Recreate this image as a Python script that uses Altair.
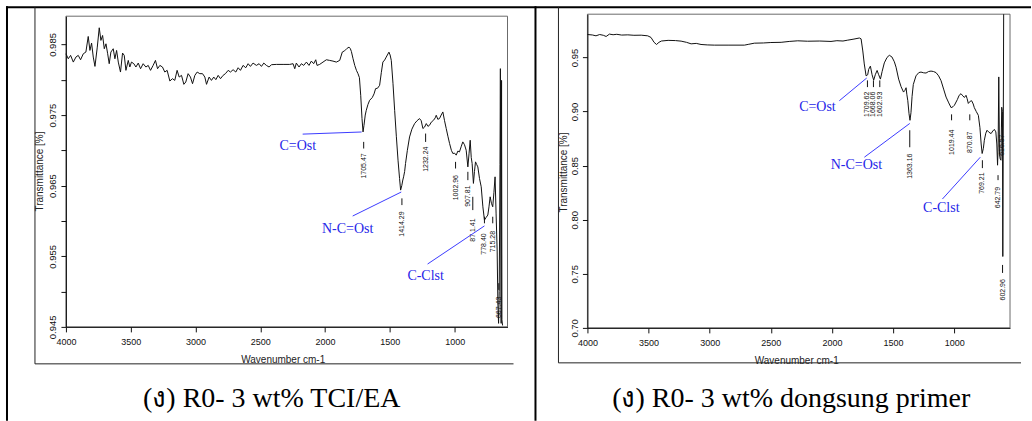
import altair as alt
import pandas as pd

# ---------------- data: left spectrum (R0-3 wt% TCI/EA) ----------------
LEFT_WN = [4000, 3982, 3964, 3943, 3923, 3905, 3887, 3866, 3846, 3828, 3815, 3802, 3789, 3776,
           3758, 3743, 3730, 3717, 3704, 3691, 3678, 3666, 3653, 3635, 3622, 3609, 3596, 3579,
           3563, 3550, 3537, 3519, 3507, 3494, 3476, 3460, 3442, 3424, 3404, 3383, 3365, 3347,
           3327, 3309, 3293, 3275, 3255, 3237, 3219, 3198, 3178, 3160, 3142, 3126, 3108, 3090,
           3075, 3057, 3039, 3023, 3005, 2987, 2967, 2946, 2928, 2915, 2895, 2877, 2859, 2843,
           2825, 2807, 2787, 2769, 2748, 2730, 2710, 2689, 2671, 2653, 2633, 2612, 2594, 2576,
           2556, 2530, 2509, 2491, 2473, 2453, 2432, 2414, 2376, 2324, 2273, 2247, 2234, 2222,
           2201, 2183, 2165, 2144, 2124, 2106, 2088, 2072, 2062, 2042, 2016, 1990, 1965, 1939,
           1913, 1887, 1867, 1849, 1830, 1815, 1805, 1797, 1784, 1771, 1758, 1746, 1735, 1725,
           1715, 1707, 1700, 1690, 1682, 1669, 1656, 1636, 1622, 1610, 1595, 1579, 1566, 1554,
           1540, 1528, 1507, 1498, 1489, 1476, 1463, 1450, 1437, 1425, 1417, 1408, 1400, 1394,
           1386, 1379, 1365, 1348, 1330, 1309, 1290, 1271, 1258, 1245, 1232, 1219, 1206, 1194,
           1180, 1163, 1150, 1142, 1130, 1117, 1104, 1091, 1078, 1065, 1052, 1039, 1025, 1014,
           1000, 988, 975, 963, 950, 937, 924, 911, 898, 889, 880, 872, 865, 855, 847, 839, 830,
           821, 808, 795, 782, 770, 757, 744, 735, 726, 716, 706, 697, 688, 680, 672, 666, 661,
           656, 650, 647, 644, 641, 638, 635, 630]
LEFT_TR = [0.98368, 0.98297, 0.98345, 0.98250, 0.98321, 0.98345, 0.98283, 0.98368, 0.98392,
           0.98613, 0.98415, 0.98519, 0.98321, 0.98189, 0.98462, 0.98736, 0.98557, 0.98627,
           0.98439, 0.98509, 0.98368, 0.98227, 0.98392, 0.98439, 0.98297, 0.98415, 0.98250,
           0.98109, 0.98378, 0.98345, 0.98133, 0.98274, 0.98180, 0.98250, 0.98227, 0.98180,
           0.98236, 0.98156, 0.98227, 0.98180, 0.98203, 0.98133, 0.98203, 0.98274, 0.98156,
           0.98203, 0.98180, 0.98109, 0.98133, 0.97982, 0.98015, 0.97991, 0.98133, 0.98038,
           0.98062, 0.97935, 0.97968, 0.98086, 0.98038, 0.97944, 0.98062, 0.98109, 0.98086,
           0.98086, 0.98038, 0.97935, 0.98038, 0.97991, 0.98038, 0.98001, 0.98062, 0.98015,
           0.98062, 0.98086, 0.98133, 0.98109, 0.98142, 0.98109, 0.98170, 0.98133, 0.98203,
           0.98170, 0.98227, 0.98189, 0.98236, 0.98203, 0.98227, 0.98189, 0.98236, 0.98203,
           0.98180, 0.98213, 0.98217, 0.98217, 0.98217, 0.98227, 0.98156, 0.98236, 0.98180,
           0.98227, 0.98203, 0.98250, 0.98203, 0.98264, 0.98227, 0.98283, 0.98203, 0.98217,
           0.98250, 0.98283, 0.98274, 0.98264, 0.98250, 0.98274, 0.98392, 0.98410, 0.98445,
           0.98462, 0.98440, 0.98400, 0.98297, 0.98203, 0.98133, 0.98086, 0.98030, 0.97780,
           0.97450, 0.97261, 0.97350, 0.97500, 0.97567, 0.97650, 0.97709, 0.97747, 0.97800,
           0.97874, 0.97880, 0.97921, 0.98100, 0.98250, 0.98280, 0.98321, 0.98391, 0.98350,
           0.98274, 0.97950, 0.97567, 0.97200, 0.96861, 0.96600, 0.96437, 0.96500, 0.96580,
           0.96625, 0.96700, 0.96814, 0.97000, 0.97190, 0.97300, 0.97379, 0.97420, 0.97450,
           0.97420, 0.97309, 0.97330, 0.97379, 0.97340, 0.97355, 0.97400, 0.97426, 0.97460,
           0.97497, 0.97440, 0.97450, 0.97500, 0.97544, 0.97420, 0.97309, 0.97200, 0.97097,
           0.97000, 0.96956, 0.96960, 0.96932, 0.96990, 0.96978, 0.97050, 0.97120, 0.97080,
           0.97002, 0.96766, 0.96950, 0.97143, 0.96900, 0.96814, 0.96532, 0.96700, 0.96837,
           0.96800, 0.96766, 0.96600, 0.96484, 0.96200, 0.96013, 0.96050, 0.96084, 0.96200,
           0.96342, 0.96250, 0.96201, 0.96400, 0.96625, 0.96100, 0.95589, 0.94800, 0.94550,
           0.95000, 0.96800, 0.98157, 0.96000, 0.94550, 0.97991, 0.94600, 0.94520]

# ---------------- data: right spectrum (R0-3 wt% dongsung primer) ----------------
RIGHT_WN = [4000, 3960, 3930, 3900, 3870, 3847, 3820, 3790, 3760, 3720, 3670, 3620, 3560, 3507,
            3480, 3455, 3435, 3415, 3395, 3340, 3280, 3234, 3190, 3152, 3110, 3071, 3020, 2962,
            2850, 2716, 2680, 2635, 2560, 2500, 2416, 2350, 2280, 2200, 2100, 2008, 1960, 1910,
            1871, 1820, 1776, 1762, 1748, 1736, 1721, 1708, 1700, 1686, 1672, 1659, 1646, 1631,
            1618, 1604, 1590, 1572, 1550, 1531, 1510, 1490, 1476, 1455, 1435, 1415, 1404, 1394,
            1388, 1380, 1370, 1362, 1354, 1345, 1335, 1313, 1290, 1272, 1250, 1231, 1210, 1190,
            1170, 1149, 1128, 1108, 1085, 1067, 1045, 1026, 1010, 999, 975, 960, 945, 930, 917,
            904, 895, 885, 870, 858, 845, 836, 820, 803, 790, 780, 772, 762, 754, 742, 732, 718,
            699, 685, 672, 660, 652, 646, 641, 636, 630, 624, 618, 612, 606, 603, 600, 596]
RIGHT_TR = [0.9712, 0.9708, 0.9700, 0.9712, 0.9705, 0.9694, 0.9716, 0.9710, 0.9714, 0.9707,
            0.9709, 0.9705, 0.9706, 0.9700, 0.9685, 0.9640, 0.9620, 0.9640, 0.9652, 0.9658,
            0.9656, 0.9651, 0.9640, 0.9626, 0.9630, 0.9620, 0.9616, 0.9614, 0.9614, 0.9614,
            0.9622, 0.9632, 0.9634, 0.9638, 0.9640, 0.9648, 0.9654, 0.9650, 0.9652, 0.9648,
            0.9655, 0.9652, 0.9660, 0.9670, 0.9680, 0.9672, 0.9560, 0.9440, 0.9330, 0.9340,
            0.9390, 0.9420, 0.9340, 0.9290, 0.9340, 0.9380, 0.9340, 0.9300, 0.9370, 0.9450,
            0.9500, 0.9520, 0.9505, 0.9460, 0.9410, 0.9300, 0.9230, 0.9180, 0.9195, 0.9220,
            0.9160, 0.9100, 0.8980, 0.8919, 0.8990, 0.9140, 0.9250, 0.9330, 0.9360, 0.9365,
            0.9358, 0.9356, 0.9370, 0.9374, 0.9370, 0.9360, 0.9330, 0.9285, 0.9200, 0.9134,
            0.9080, 0.9036, 0.9045, 0.9058, 0.9110, 0.9150, 0.9165, 0.9145, 0.9130, 0.9150,
            0.9120, 0.9075, 0.9095, 0.9100, 0.9070, 0.9036, 0.9000, 0.8965, 0.8850, 0.8700,
            0.8612, 0.8660, 0.8735, 0.8800, 0.8827, 0.8810, 0.8796, 0.8820, 0.8835, 0.8812,
            0.8700, 0.8504, 0.8700, 0.9320, 0.8600, 0.8560, 0.8550, 0.9040, 0.9000, 0.7660,
            0.8600, 0.9900]

# ---------------- peak labels ----------------
LEFT_PEAK_TEXT = ["1705.47", "1414.29", "1232.24", "1002.96", "907.81", "87 1.41", "778.40", "715.28", "667.43"]
LEFT_PEAK_X = [1702, 1407, 1224, 993, 898, 860, 770, 706, 659]
LEFT_PEAK_Y = [0.96779, 0.95956, 0.96875, 0.96472, 0.96352, 0.95872, 0.95674, 0.95707, 0.94777]
LEFT_TICK_Y1 = [0.97120, 0.96320, 0.97238, 0.96837, 0.96696, 0.96342, 0.96060, 0.96060, 0.95119]
LEFT_TICK_Y2 = [0.97026, 0.96225, 0.97119, 0.96743, 0.96578, 0.96154, 0.95967, 0.95967, 0.95024]

RIGHT_PEAK_TEXT = ["1709.62", "1668.06", "1602.93", "1363.16", "1019.44", "870.87", "769.21", "642.79", "616.57", "602.96"]
RIGHT_PEAK_X = [1710, 1661, 1609, 1364, 1022, 873, 770, 642, 612, 605]
RIGHT_PEAK_Y = [0.9067, 0.9067, 0.9067, 0.8495, 0.8716, 0.8716, 0.8338, 0.8205, 0.8689, 0.7352]
RIGHT_TICK_Y1 = [0.9288, 0.9288, 0.9288, 0.8827, 0.8974, 0.8974, 0.8550, 0.8412, 0.8900, 0.7582]
RIGHT_TICK_Y2 = [0.9226, 0.9226, 0.9226, 0.8670, 0.8919, 0.8919, 0.8477, 0.8366, 0.8860, 0.7508]

# ---------------- blue band assignments ----------------
NOTE_TEXT = ["C=Ost", "N-C=Ost", "C-Clst"]
LEFT_NOTE_X = [2211, 1826, 1224]
LEFT_NOTE_Y = [0.9706, 0.9589, 0.9522]
LEFT_LINK_X1 = [2173, 1787, 1209]
LEFT_LINK_Y1 = [0.9723, 0.9607, 0.9539]
LEFT_LINK_X2 = [1718, 1412, 770]
LEFT_LINK_Y2 = [0.9726, 0.9641, 0.9593]

RIGHT_NOTE_X = [2119, 1800, 1106]
RIGHT_NOTE_Y = [0.9039, 0.8504, 0.8108]
RIGHT_LINK_X1 = [1940, 1735, 1097]
RIGHT_LINK_Y1 = [0.9100, 0.8578, 0.8191]
RIGHT_LINK_X2 = [1716, 1364, 787]
RIGHT_LINK_Y2 = [0.9310, 0.8890, 0.8578]

# ---------------- axes ----------------
X_TICKS = [4000, 3500, 3000, 2500, 2000, 1500, 1000]
LEFT_Y_TICKS = [0.945, 0.95, 0.955, 0.96, 0.965, 0.97, 0.975, 0.98, 0.985]
RIGHT_Y_TICKS = [0.70, 0.75, 0.80, 0.85, 0.90, 0.95]
LEFT_X_DOMAIN = [4000, 592]
LEFT_Y_DOMAIN = [0.945, 0.989]
RIGHT_X_DOMAIN = [4000, 544]
RIGHT_Y_DOMAIN = [0.70, 0.99]
X_TITLE = "Wavenumber cm-1"
Y_TITLE = "Transmittance [%]"
CAPTIONS = ["(ง) R0- 3 wt% TCI/EA", "(ง) R0- 3 wt% dongsung primer"]

W, H = 1032, 421
OX, OY = 66, 14          # where the left plot area starts on the page
SANS = "Liberation Sans"
SERIF = "Liberation Serif"
BLUE = "#2626e8"


def panel(wn, tr, xdom, ydom, width, height, yrange, yticks, ylabel_expr,
          peak_text, peak_x, peak_y, tick_y1, tick_y2,
          note_x, note_y, lx1, ly1, lx2, ly2,
          xtitle_x, ytitle_x, ytitle_y, extra):
    xs = alt.Scale(domain=xdom, nice=False, zero=False)
    ys = alt.Scale(domain=ydom, range=yrange, nice=False, zero=False)
    xaxis = alt.Axis(values=X_TICKS, format="d", orient="bottom", zindex=1,
                     grid=False, tickSize=5, labelPadding=6, labelFlush=False,
                     labelOverlap=False, labelFont=SANS, labelFontSize=9,
                     labelColor="#111", domainColor="#111", tickColor="#111",
                     title=X_TITLE, titleFont=SANS, titleFontSize=10, titleFontWeight="normal",
                     titleColor="#222", titleX=xtitle_x, titleY=33, titleAlign="center",
                     titleBaseline="middle", titleAngle=0)
    yaxis = alt.Axis(values=yticks, orient="left", grid=False, zindex=1,
                     tickSize=5, labelPadding=5, labelFlush=False, labelOverlap=False,
                     labelAngle=270, labelAlign="center", labelBaseline="alphabetic",
                     labelExpr=ylabel_expr, labelFont=SANS, labelFontSize=9.5,
                     labelColor="#111", domainColor="#111", tickColor="#111",
                     title=Y_TITLE, titleFont=SANS, titleFontSize=10, titleFontWeight="normal",
                     titleColor="#222", titleAngle=270, titleX=ytitle_x, titleY=ytitle_y,
                     titleAlign="center", titleBaseline="alphabetic")

    def X(f):
        return alt.X(f, scale=xs, axis=xaxis)

    def Y(f):
        return alt.Y(f, scale=ys, axis=yaxis)

    frame_df = pd.DataFrame({"x1": [xdom[0]], "x2": [xdom[1]], "y1": [ydom[0]], "y2": [ydom[1]]})
    frame = alt.Chart(frame_df).mark_rect(fillOpacity=0, stroke="#6a6a6a", strokeWidth=1).encode(
        x=X("x1:Q"), x2="x2:Q", y=Y("y1:Q"), y2="y2:Q")

    spec = pd.DataFrame({"w": wn, "t": tr})
    line = alt.Chart(spec).mark_line(color="#111", strokeWidth=1).encode(x=X("w:Q"), y=Y("t:Q"))

    peaks = pd.DataFrame({"label": peak_text, "x": peak_x, "y": peak_y, "y1": tick_y1, "y2": tick_y2})
    ptext = alt.Chart(peaks).mark_text(angle=270, font=SANS, fontSize=7, color="#111",
                                       align="center", baseline="middle").encode(
        x=X("x:Q"), y=Y("y:Q"), text="label:N")
    pticks = alt.Chart(peaks).mark_rule(color="#111", strokeWidth=1).encode(
        x=X("x:Q"), y=Y("y1:Q"), y2="y2:Q")

    notes = pd.DataFrame({"label": NOTE_TEXT, "x": note_x, "y": note_y,
                          "x1": lx1, "y1": ly1, "x2": lx2, "y2": ly2})
    links = alt.Chart(notes).mark_rule(color="#3b3bff", strokeWidth=1).encode(
        x=X("x1:Q"), x2="x2:Q", y=Y("y1:Q"), y2="y2:Q")
    ntext = alt.Chart(notes).mark_text(font=SERIF, fontSize=14, color=BLUE,
                                       align="center", baseline="middle").encode(
        x=X("x:Q"), y=Y("y:Q"), text="label:N")

    return alt.layer(*extra, frame, line, pticks, ptext, links, ntext).properties(
        width=width, height=height)


# ---------------- page decorations (table rules, figure frames, captions) ----------------
one = pd.DataFrame({"k": [0]})


def hline(x1, x2, y, width, color):
    return alt.Chart(one).mark_rule(color=color, strokeWidth=width).encode(
        x=alt.value(x1 - OX), x2=alt.value(x2 - OX), y=alt.value(y - OY))


def vline(x, y1, y2, width, color):
    return alt.Chart(one).mark_rule(color=color, strokeWidth=width).encode(
        x=alt.value(x - OX), y=alt.value(y1 - OY), y2=alt.value(y2 - OY))


def caption(x, text):
    return alt.Chart(one).mark_text(font=SERIF, fontSize=28, color="#000", align="center",
                                    baseline="alphabetic").encode(
        x=alt.value(x - OX), y=alt.value(407 - OY), text=alt.value(text))


page = alt.Chart(one).mark_rect(color="white").encode(
    x=alt.value(-OX), x2=alt.value(W - OX), y=alt.value(-OY), y2=alt.value(H - OY))

deco = [
    page,
    hline(6, W, 7, 2, "#000"),
    vline(7, 6, H, 2, "#000"),
    vline(536, 6, H, 2, "#000"),
    vline(35, 7, 364, 1, "#222"),
    hline(35, 514, 364, 1, "#222"),
    vline(559, 7, 363, 1, "#222"),
    hline(559, 1022, 363, 1, "#222"),
    caption(272, CAPTIONS[0]),
    caption(792, CAPTIONS[1]),
]

left = panel(LEFT_WN, LEFT_TR, LEFT_X_DOMAIN, LEFT_Y_DOMAIN, 442, 313, [313, 2], LEFT_Y_TICKS,
             "(round(datum.value * 1000) % 10 == 5) ? format(datum.value, '.3f') : ''",
             LEFT_PEAK_TEXT, LEFT_PEAK_X, LEFT_PEAK_Y, LEFT_TICK_Y1, LEFT_TICK_Y2,
             LEFT_NOTE_X, LEFT_NOTE_Y, LEFT_LINK_X1, LEFT_LINK_Y1, LEFT_LINK_X2, LEFT_LINK_Y2,
             283 - 66, -23, 171 - OY, deco)
right = panel(RIGHT_WN, RIGHT_TR, RIGHT_X_DOMAIN, RIGHT_Y_DOMAIN, 423, 314, [314, 0], RIGHT_Y_TICKS,
              "format(datum.value, '.2f')",
              RIGHT_PEAK_TEXT, RIGHT_PEAK_X, RIGHT_PEAK_Y, RIGHT_TICK_Y1, RIGHT_TICK_Y2,
              RIGHT_NOTE_X, RIGHT_NOTE_Y, RIGHT_LINK_X1, RIGHT_LINK_Y1, RIGHT_LINK_X2, RIGHT_LINK_Y2,
              797 - 588, -21, 172 - OY, [])

chart = alt.hconcat(left, right, spacing=80, bounds="flush").properties(
    padding=0, background="white"
).configure_view(strokeWidth=0)

chart.save("out.html", embed_options={"renderer": "svg", "actions": False})
